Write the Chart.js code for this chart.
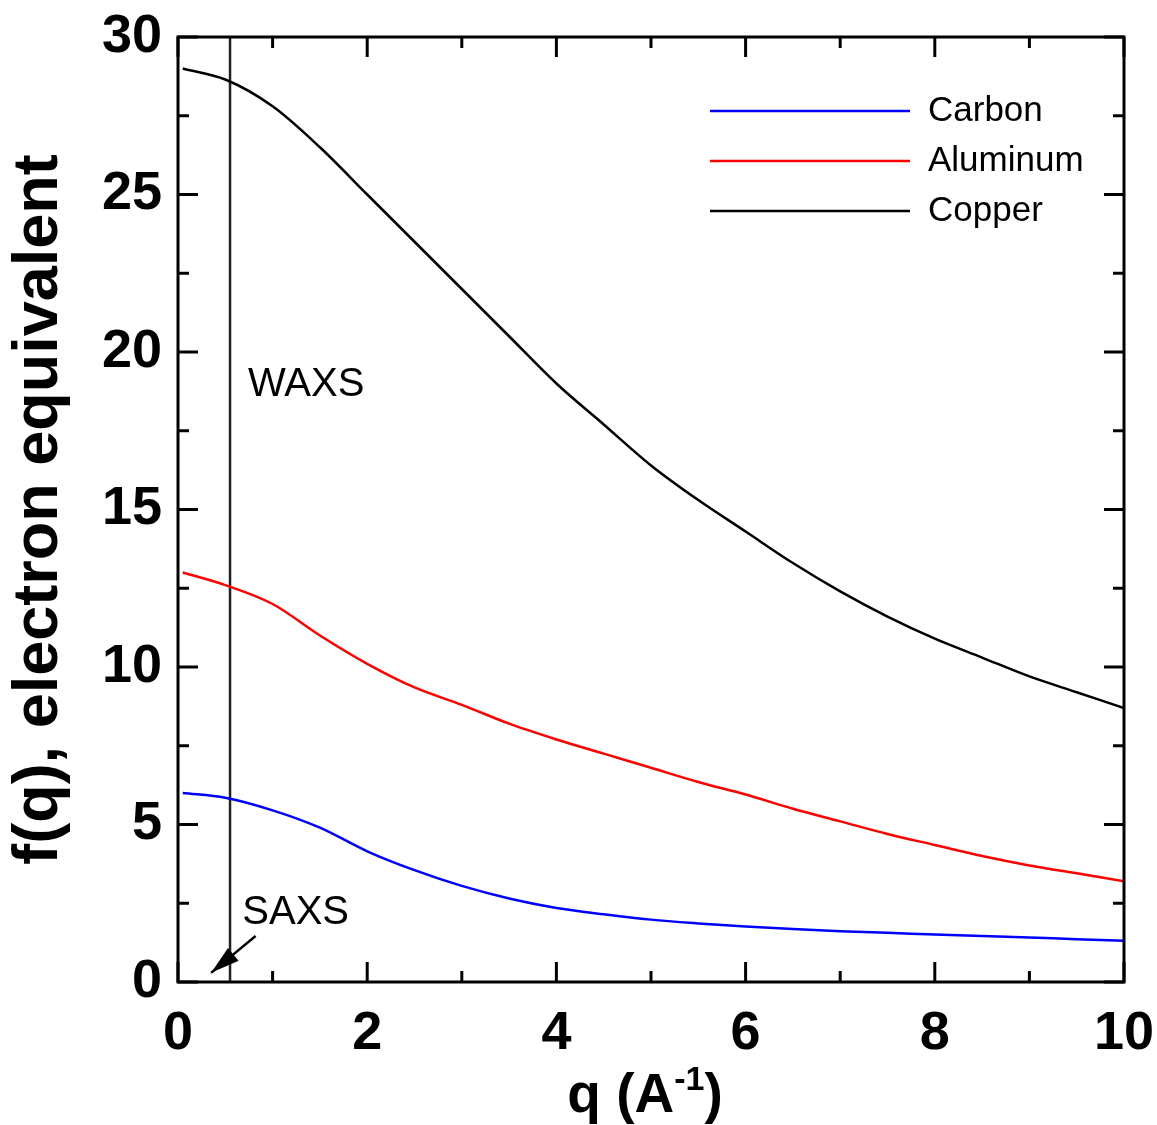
<!DOCTYPE html>
<html lang="en">
<head>
  <meta charset="UTF-8" />
  <title>Atomic form factor f(q)</title>
  <script src="https://cdn.jsdelivr.net/npm/chart.js"></script>
  <style>
    body { margin: 0; padding: 0; background: #fff; }
    .chart-box { width: 1157px; height: 1125px; position: relative; }
  </style>
</head>
<body>
  <div class="chart-box">
    <canvas id="fqChart"></canvas>
  </div>
  <script>
    // q values (A^-1) shared by all three curves
    const qValues = [0.05, 0.5, 1, 1.5, 2, 2.5, 3, 3.5, 4, 4.5, 5, 5.5, 6, 6.5, 7, 7.5, 8, 8.5, 9, 9.5, 10];
    const carbonF = [6.0, 5.85, 5.45, 4.9, 4.15, 3.55, 3.05, 2.65, 2.35, 2.15, 1.98, 1.86, 1.76, 1.68, 1.61, 1.56, 1.51, 1.46, 1.41, 1.36, 1.31];
    const aluminumF = [13.0, 12.6, 12.0, 11.0, 10.1, 9.35, 8.8, 8.2, 7.7, 7.25, 6.8, 6.35, 5.95, 5.5, 5.1, 4.7, 4.35, 4.0, 3.7, 3.45, 3.2];
    const copperF = [29.0, 28.65, 27.8, 26.5, 25.0, 23.5, 22.0, 20.5, 19.0, 17.7, 16.4, 15.3, 14.3, 13.3, 12.4, 11.6, 10.9, 10.3, 9.7, 9.2, 8.7];

    // SAXS / WAXS boundary
    const boundaryQ = 0.55;
    const boundaryY = [0, 30];

    // tick positions
    const xMajor = [0, 2, 4, 6, 8, 10];
    const xMinor = [1, 3, 5, 7, 9];
    const yMajor = [0, 5, 10, 15, 20, 25, 30];
    const yMinor = [2.5, 7.5, 12.5, 17.5, 22.5, 27.5];

    const toPoints = (ys) => ys.map((y, i) => ({ x: qValues[i], y: y }));
    const FONT = '"Liberation Sans", Arial, sans-serif';

    // frame + inward ticks on all four sides
    const frameTicks = {
      id: 'frameTicks',
      afterDraw(chart) {
        const { ctx, chartArea: a, scales: { x, y } } = chart;
        ctx.save();
        ctx.strokeStyle = '#000';
        ctx.lineWidth = 3;
        ctx.strokeRect(a.left, a.top, a.right - a.left, a.bottom - a.top);
        const tick = (x1, y1, x2, y2) => { ctx.beginPath(); ctx.moveTo(x1, y1); ctx.lineTo(x2, y2); ctx.stroke(); };
        [[xMajor, 20], [xMinor, 11]].forEach(([vals, len]) => {
          vals.forEach(v => {
            const px = x.getPixelForValue(v);
            tick(px, a.bottom, px, a.bottom - len);
            tick(px, a.top, px, a.top + len);
          });
        });
        [[yMajor, 20], [yMinor, 11]].forEach(([vals, len]) => {
          vals.forEach(v => {
            const py = y.getPixelForValue(v);
            tick(a.left, py, a.left + len, py);
            tick(a.right, py, a.right - len, py);
          });
        });
        ctx.restore();
      }
    };

    // legend, annotations, arrow, x title with superscript
    const extras = {
      id: 'extras',
      afterDraw(chart) {
        const { ctx, chartArea: a, scales: { x, y } } = chart;
        ctx.save();
        // legend
        const items = chart.data.datasets.filter(d => d.label !== 'boundary');
        ctx.font = '35px ' + FONT;
        ctx.textBaseline = 'middle';
        items.forEach((d, i) => {
          const ly = 111 + i * 50;
          ctx.strokeStyle = d.borderColor;
          ctx.lineWidth = 2.5;
          ctx.beginPath(); ctx.moveTo(710, ly); ctx.lineTo(910, ly); ctx.stroke();
          ctx.fillStyle = '#000';
          ctx.fillText(d.label, 928, ly);
        });

        // WAXS / SAXS labels
        ctx.font = '40px ' + FONT;
        ctx.textBaseline = 'alphabetic';
        ctx.fillText('WAXS', x.getPixelForValue(0.74), y.getPixelForValue(18.6));
        ctx.fillText('SAXS', x.getPixelForValue(0.68), y.getPixelForValue(1.84));

        // arrow
        const x0 = x.getPixelForValue(0.82), y0 = y.getPixelForValue(1.46);
        const x1 = x.getPixelForValue(0.35), y1 = y.getPixelForValue(0.29);
        const ang = Math.atan2(y1 - y0, x1 - x0);
        ctx.strokeStyle = '#000';
        ctx.lineWidth = 2.5;
        ctx.beginPath(); ctx.moveTo(x0, y0); ctx.lineTo(x1, y1); ctx.stroke();
        ctx.beginPath();
        ctx.moveTo(x1, y1);
        ctx.lineTo(x1 - 30 * Math.cos(ang - 0.28), y1 - 30 * Math.sin(ang - 0.28));
        ctx.lineTo(x1 - 30 * Math.cos(ang + 0.28), y1 - 30 * Math.sin(ang + 0.28));
        ctx.closePath();
        ctx.fillStyle = '#000';
        ctx.fill();

        // x axis title: q (A^-1)
        const big = 'bold 55px ' + FONT;
        const small = 'bold 34px ' + FONT;
        const parts = [['q (A', big, 0], ['-1', small, -22], [')', big, 0]];
        let total = 0;
        parts.forEach(p => { ctx.font = p[1]; total += ctx.measureText(p[0]).width; });
        let cx = 645 - total / 2;
        const base = 1112;
        parts.forEach(p => {
          ctx.font = p[1];
          ctx.fillText(p[0], cx, base + p[2]);
          cx += ctx.measureText(p[0]).width;
        });
        ctx.restore();
      }
    };

    new Chart(document.getElementById('fqChart'), {
      type: 'line',
      data: {
        datasets: [
          { label: 'Carbon', data: toPoints(carbonF), borderColor: '#0000ff' },
          { label: 'Aluminum', data: toPoints(aluminumF), borderColor: '#ff0000' },
          { label: 'Copper', data: toPoints(copperF), borderColor: '#000000' },
          { label: 'boundary', data: boundaryY.map(v => ({ x: boundaryQ, y: v })), borderColor: '#222222', tension: 0 }
        ]
      },
      options: {
        responsive: true,
        maintainAspectRatio: false,
        animation: false,
        layout: { padding: { top: 37, right: 33, bottom: 0, left: 0 } },
        elements: {
          point: { radius: 0 },
          line: { borderWidth: 2.5, tension: 0.4, cubicInterpolationMode: 'monotone', fill: false }
        },
        plugins: { legend: { display: false }, tooltip: { enabled: false } },
        scales: {
          x: {
            type: 'linear',
            min: 0, max: 10,
            grid: { display: false, drawTicks: false },
            border: { display: false },
            ticks: { stepSize: 2, padding: 20, color: '#000', font: { family: FONT, size: 54, weight: 'bold' } },
            afterFit(scale) { scale.height = 143; scale.paddingLeft = 0; scale.paddingRight = 0; }
          },
          y: {
            min: 0, max: 30,
            grid: { display: false, drawTicks: false },
            border: { display: false },
            title: { display: true, text: 'f(q), electron equivalent', color: '#000', padding: { top: 2, bottom: 0 },
                     font: { family: FONT, size: 63, weight: 'bold' } },
            ticks: { stepSize: 5, padding: 16, color: '#000', font: { family: FONT, size: 54, weight: 'bold' } },
            afterFit(scale) { scale.width = 178; scale.paddingTop = 0; scale.paddingBottom = 0; }
          }
        }
      },
      plugins: [frameTicks, extras]
    });
  </script>
</body>
</html>
